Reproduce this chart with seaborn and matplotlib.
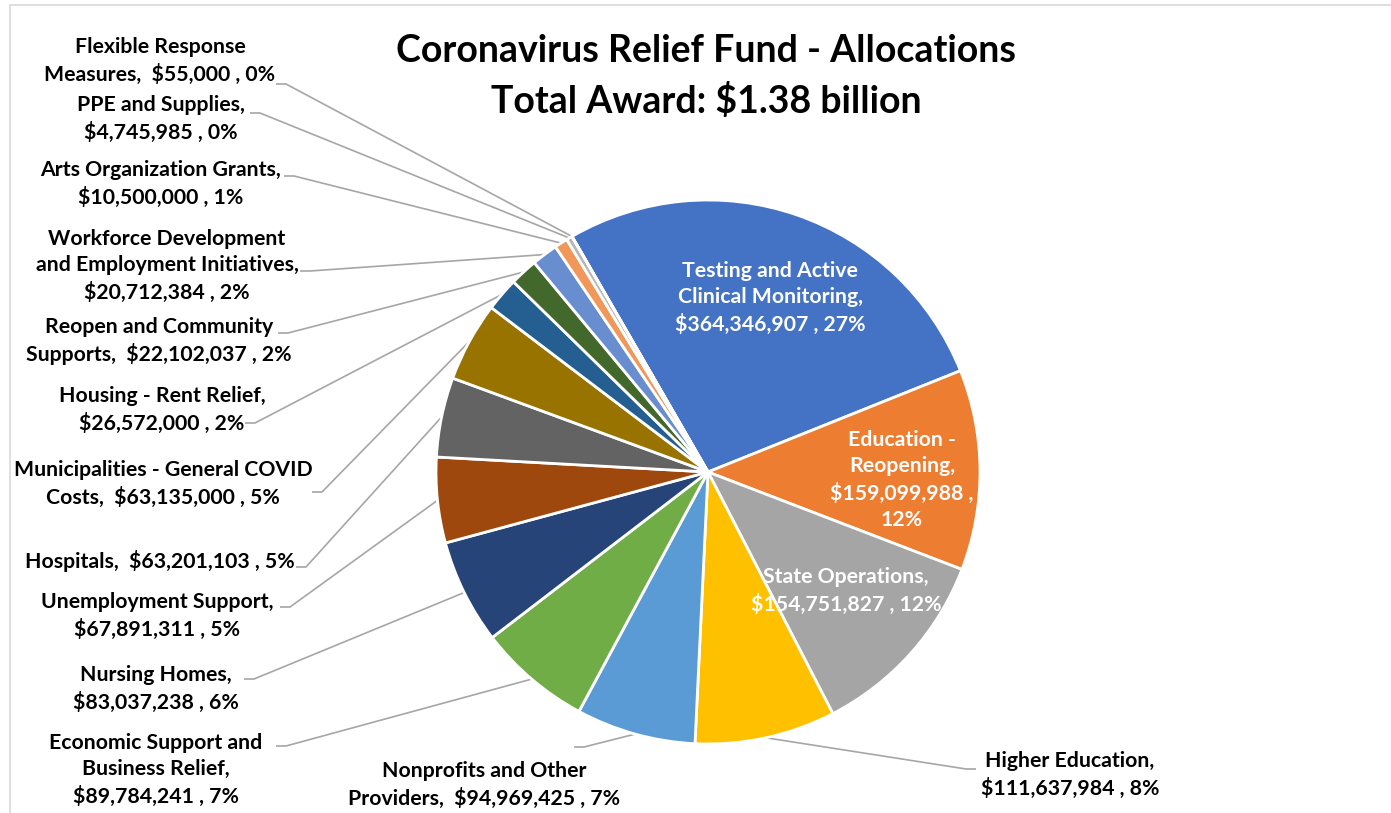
import matplotlib
matplotlib.use("Agg")
import matplotlib.pyplot as plt
import numpy as np
import seaborn as sns

# Allocation categories (clockwise order) and awarded amounts in dollars
categories = [
    "Testing and Active Clinical Monitoring",
    "Education - Reopening",
    "State Operations",
    "Higher Education",
    "Nonprofits and Other Providers",
    "Economic Support and Business Relief",
    "Nursing Homes",
    "Unemployment Support",
    "Hospitals",
    "Municipalities - General COVID Costs",
    "Housing - Rent Relief",
    "Reopen and Community Supports",
    "Workforce Development and Employment Initiatives",
    "Arts Organization Grants",
    "PPE and Supplies",
    "Flexible Response Measures",
]
amounts = [
    364346907, 159099988, 154751827, 111637984, 94969425, 89784241,
    83037238, 67891311, 63201103, 63135000, 26572000, 22102037,
    20712384, 10500000, 4745985, 55000,
]
# Wrapped label text: {v} = dollar amount, {p} = rounded percentage
label_templates = [
    "Testing and Active\nClinical Monitoring,\n{v} , {p}",
    "Education -\nReopening,\n{v} ,\n{p}",
    "State Operations,\n{v} , {p}",
    "Higher Education,\n{v} , {p}",
    "Nonprofits and Other\nProviders,  {v} , {p}",
    "Economic Support and\nBusiness Relief,\n{v} , {p}",
    "Nursing Homes,\n{v} , {p}",
    "Unemployment Support,\n{v} , {p}",
    "Hospitals,  {v} , {p}",
    "Municipalities - General COVID\nCosts,  {v} , {p}",
    "Housing - Rent Relief,\n{v} , {p}",
    "Reopen and Community\nSupports,  {v} , {p}",
    "Workforce Development\nand Employment Initiatives,\n{v} , {p}",
    "Arts Organization Grants,\n{v} , {p}",
    "PPE and Supplies,\n{v} , {p}",
    "Flexible Response\nMeasures,  {v} , {p}",
]
title_lines = ["Coronavirus Relief Fund - Allocations", "Total Award: $1.38 billion"]
palette_hex = [
    "#4472C4", "#ED7D31", "#A5A5A5", "#FFC000", "#5B9BD5", "#70AD47",
    "#264478", "#9E480E", "#636363", "#997300", "#255E91", "#43682B",
    "#698ED0", "#F1975A", "#B7B7B7", "#FFCD33",
]

sns.set_theme(style="white")
FONT = ["Lato", "DejaVu Sans"]
plt.rcParams["font.family"] = FONT

W, H = 1391, 813
fig = plt.figure(figsize=(W / 100, H / 100), dpi=100)
ax = fig.add_axes([0, 0, 1, 1])

CX, CY, R = 708, 472, 272
colors = sns.color_palette(palette_hex, n_colors=len(palette_hex))
wedges, _ = ax.pie(
    amounts, colors=colors, startangle=-120, counterclock=True,
    center=(CX, CY), radius=R,
    wedgeprops=dict(edgecolor="white", linewidth=2.0),
)
ax.set_xlim(0, W)
ax.set_ylim(H, 0)
ax.set_aspect("equal")
ax.axis("off")

total = sum(amounts)
texts = [
    t.format(v=f"${a:,}", p=f"{round(a / total * 100)}%")
    for t, a in zip(label_templates, amounts)
]

# Label placement: (center x, center y, colour, leader attach point or None)
layout = {
    0: (770, 298, "white", None),
    1: (902, 480, "white", None),
    2: (846, 591, "white", None),
    3: (1070, 775, "black", (976, 769)),
    4: (484, 785, "black", (574, 747)),
    5: (156, 770, "black", (276, 746)),
    6: (156, 689, "black", (244, 679)),
    7: (157, 616, "black", (280, 607)),
    8: (160, 561, "black", (296, 567)),
    9: (163, 484, "black", (312, 492)),
    10: (162, 410, "black", (245, 423)),
    11: (159, 341, "black", (278, 333)),
    12: (167, 266, "black", (300, 271)),
    13: (161, 184, "black", (284, 176)),
    14: (161, 119, "black", (250, 113)),
    15: (160, 61, "black", (276, 84)),
}

for i, (x, y, col, attach) in layout.items():
    ax.text(x, y, texts[i], ha="center", va="center", color=col,
            fontsize=15.3, fontweight="bold", linespacing=1.37, family=FONT)
    if attach is not None:
        w = wedges[i]
        mid = np.deg2rad((w.theta1 + w.theta2) / 2)
        ex, ey = CX + R * np.cos(mid), CY + R * np.sin(mid)
        ax_, ay_ = attach
        step = 10 if ex > ax_ else -10
        ax.plot([ax_, ax_ + step, ex], [ay_, ay_, ey], color="#A6A6A6",
                lw=1.2, solid_capstyle="butt", zorder=0)

ax.text(706, 51, title_lines[0], ha="center", va="center", fontsize=27,
        fontweight="bold", color="black", family=FONT)
ax.text(706, 101, title_lines[1], ha="center", va="center", fontsize=27,
        fontweight="bold", color="black", family=FONT)

# Chart area border
ax.plot([10, W], [5, 5], color="#D9D9D9", lw=1.2)
ax.plot([10, 10], [5, H], color="#D9D9D9", lw=1.2)

fig.savefig("out.png", dpi=100, facecolor="white")
